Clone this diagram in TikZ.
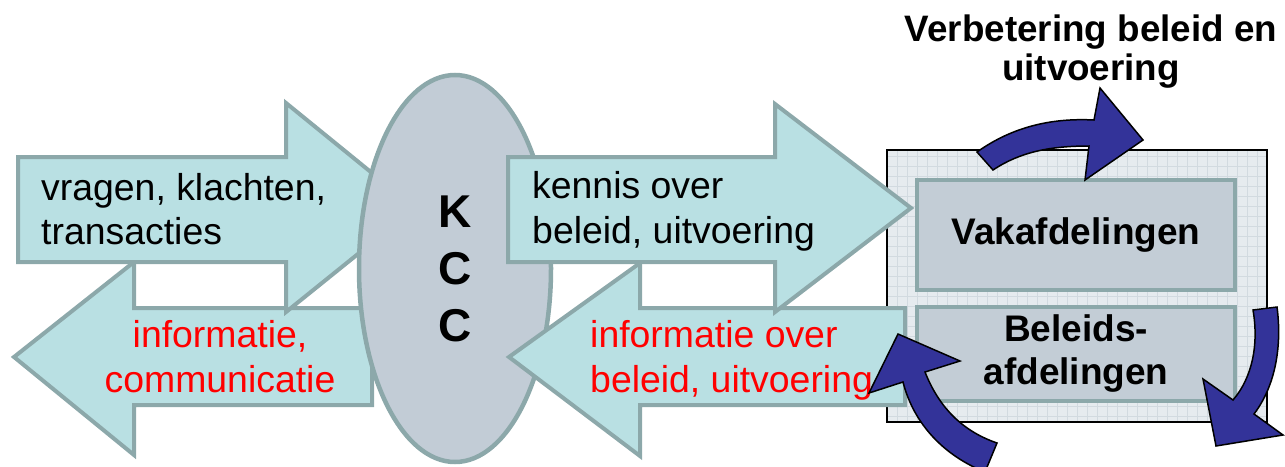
\documentclass[tikz,border=0pt]{standalone}
\usepackage{fontspec}
\setmainfont{Liberation Sans}
\usetikzlibrary{shapes.geometric}
\definecolor{arrowfill}{HTML}{B9E0E3}
\definecolor{arrowline}{HTML}{8CA8AA}
\definecolor{kccfill}{HTML}{C2CCD6}
\definecolor{boxfill}{HTML}{C3CDD6}
\definecolor{outerfill}{HTML}{E6EBEF}
\definecolor{gridcol}{HTML}{D2DAE0}
\definecolor{turnblue}{HTML}{333399}
\definecolor{redtext}{HTML}{FF0000}
\tikzset{
  flowarrow/.style={fill=arrowfill, draw=arrowline, line width=4pt, line join=miter},
  blueturn/.style={fill=turnblue, draw=black, line width=1.5pt, line join=miter},
  deptbox/.style={rectangle, fill=boxfill, draw=arrowline, line width=4pt, inner sep=0pt,
    font=\bfseries\fontsize{37}{43}\selectfont, align=center},
  outerbox/.style={rectangle, fill=outerfill, draw=black, line width=1.2pt, inner sep=0pt,
    path picture={\draw[gridcol, line width=0.6pt] (path picture bounding box.south west) grid[step=10pt] (path picture bounding box.north east);}},
  kccshape/.style={ellipse, fill=kccfill, draw=arrowline, line width=4.5pt, inner sep=0pt,
    font=\bfseries\fontsize{46}{57}\selectfont, align=center},
  lbl/.style={inner sep=0pt, font=\fontsize{37.4}{44}\selectfont},
  redlbl/.style={lbl, text=redtext},
  titlelbl/.style={inner sep=0pt, font=\bfseries\fontsize{36.8}{44}\selectfont, anchor=base},
}
\begin{document}
\begin{tikzpicture}[x=1pt, y=-1pt]
\useasboundingbox (0,0) rectangle (1285,466);

% outer department frame with grid
\node[outerbox, minimum width=380pt, minimum height=272pt] (dept) at (1077,286) {};

% left pair of arrows
\draw[flowarrow] (372,308) -- (134,308) -- (134,262) -- (14,357) -- (134,455) -- (134,405) -- (372,405) -- cycle;
\draw[flowarrow] (18,157) -- (286,157) -- (286,103) -- (415,208) -- (286,312) -- (286,262) -- (18,262) -- cycle;

% KCC ellipse
\node[kccshape, minimum width=192pt, minimum height=387pt] (kcc) at (455,268.5) {K\\C\\C};

% right pair of arrows
\draw[flowarrow] (905,308) -- (640,308) -- (640,263) -- (509,357) -- (640,456) -- (640,405) -- (905,405) -- cycle;
\draw[flowarrow] (508,157) -- (775,157) -- (775,104) -- (911,208) -- (775,312) -- (775,262) -- (508,262) -- cycle;

% arrow labels
\node[lbl, anchor=base west] (qa) at (41,200) {vragen, klachten,};
\node[lbl, anchor=base west] (qb) at (41,244) {transacties};
\node[redlbl, anchor=base] (ia) at (220,347) {informatie,};
\node[redlbl, anchor=base] (ib) at (220,392) {communicatie};
\node[lbl, anchor=base west] (ka) at (532,198) {kennis over};
\node[lbl, anchor=base west] (kb) at (532,243) {beleid, uitvoering};
\node[redlbl, anchor=base west] (ja) at (590,347) {informatie over};
\node[redlbl, anchor=base west] (jb) at (590,392) {beleid, uitvoering};

% department boxes
\node[deptbox, minimum width=318pt, minimum height=110pt] (vak) at (1076,235) {Vakafdelingen};
\node[deptbox, minimum width=318pt, minimum height=94pt] (bel) at (1076,354) {Beleids-\\afdelingen};

% curved blue arrows
\draw[blueturn] (993,170) -- (977,152) .. controls (1015,125) and (1055,118) .. (1094,120)
  -- (1100,88) -- (1143,140) -- (1085,180) -- (1089,146) .. controls (1050,146) and (1020,152) .. (993,170) -- cycle;
\draw[blueturn] (1253,310) .. controls (1259,345) and (1252,378) .. (1233,400) -- (1203,379) -- (1216,446)
  -- (1283,435) -- (1254,414) .. controls (1276,385) and (1282,345) .. (1277,307) -- cycle;
\draw[blueturn] (898,334) -- (960,361) -- (925,372) .. controls (940,410) and (965,432) .. (997,443)
  -- (985,472) .. controls (945,456) and (914,425) .. (903,382) -- (869,393) -- cycle;

% title
\node[titlelbl] (ta) at (1091,41) {Verbetering beleid en};
\node[titlelbl] (tb) at (1091,80) {uitvoering};
\end{tikzpicture}
\end{document}
